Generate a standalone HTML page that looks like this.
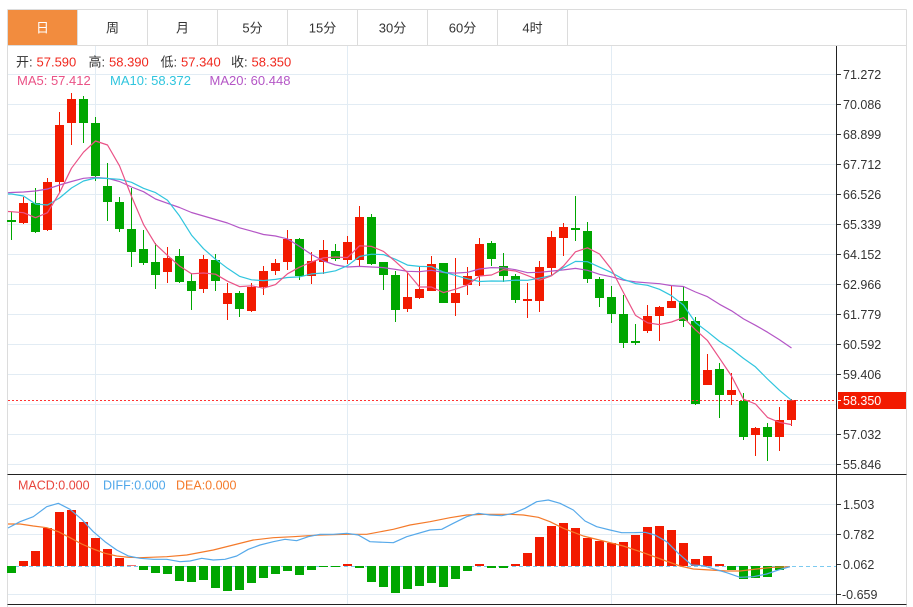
<!DOCTYPE html>
<html><head><meta charset="utf-8"><style>
html,body{margin:0;padding:0;background:#fff;}
svg{display:block;font-family:"Liberation Sans","Noto Sans CJK SC",sans-serif;}
</style></head><body>
<svg width="913" height="607" viewBox="0 0 913 607" xmlns="http://www.w3.org/2000/svg">
<rect x="0" y="0" width="913" height="607" fill="#fff"/>
<!-- tab bar -->
<rect x="8" y="10" width="69.5" height="35" fill="#f28c3e"/>
<g stroke="#dcdcdc" stroke-width="1" fill="none" shape-rendering="crispEdges">
<line x1="7.5" y1="9.5" x2="906.5" y2="9.5"/>
<line x1="7.5" y1="45.5" x2="906.5" y2="45.5"/>
<line x1="7.5" y1="9.5" x2="7.5" y2="607"/>
<line x1="906.5" y1="9.5" x2="906.5" y2="607"/>
<line x1="77.5" y1="10" x2="77.5" y2="45"/>
<line x1="147.5" y1="10" x2="147.5" y2="45"/>
<line x1="217.5" y1="10" x2="217.5" y2="45"/>
<line x1="287.5" y1="10" x2="287.5" y2="45"/>
<line x1="357.5" y1="10" x2="357.5" y2="45"/>
<line x1="427.5" y1="10" x2="427.5" y2="45"/>
<line x1="497.5" y1="10" x2="497.5" y2="45"/>
<line x1="567.5" y1="10" x2="567.5" y2="45"/>
</g>
<g font-size="13" text-anchor="middle" fill="#333">
<text x="42.5" y="32.5" fill="#fff">日</text>
<text x="112.5" y="32.5">周</text>
<text x="182.5" y="32.5">月</text>
<text x="252.5" y="32.5">5分</text>
<text x="322.5" y="32.5">15分</text>
<text x="392.5" y="32.5">30分</text>
<text x="462.5" y="32.5">60分</text>
<text x="532.5" y="32.5">4时</text>
</g>
<!-- grid -->
<g stroke="#e2ecf4" stroke-width="1" shape-rendering="crispEdges">
<line x1="8" y1="74.5" x2="837" y2="74.5"/>
<line x1="8" y1="104.5" x2="837" y2="104.5"/>
<line x1="8" y1="134.5" x2="837" y2="134.5"/>
<line x1="8" y1="164.5" x2="837" y2="164.5"/>
<line x1="8" y1="194.5" x2="837" y2="194.5"/>
<line x1="8" y1="224.5" x2="837" y2="224.5"/>
<line x1="8" y1="254.5" x2="837" y2="254.5"/>
<line x1="8" y1="284.5" x2="837" y2="284.5"/>
<line x1="8" y1="314.5" x2="837" y2="314.5"/>
<line x1="8" y1="344.5" x2="837" y2="344.5"/>
<line x1="8" y1="374.5" x2="837" y2="374.5"/>
<line x1="8" y1="404.5" x2="837" y2="404.5"/>
<line x1="8" y1="434.5" x2="837" y2="434.5"/>
<line x1="8" y1="464.5" x2="837" y2="464.5"/>
<line x1="8" y1="504.5" x2="837" y2="504.5"/>
<line x1="8" y1="534.5" x2="837" y2="534.5"/>
<line x1="8" y1="594.5" x2="837" y2="594.5"/>
<line x1="95.5" y1="46" x2="95.5" y2="604"/>
<line x1="347.5" y1="46" x2="347.5" y2="604"/>
<line x1="611.5" y1="46" x2="611.5" y2="604"/>
</g>
<line x1="8" y1="566.5" x2="837" y2="566.5" stroke="#7ccaf0" stroke-width="1" stroke-dasharray="4,3" shape-rendering="crispEdges"/>
<!-- info text -->
<g font-size="13">
<text x="16" y="66.5" fill="#333">开:</text><text x="36.5" y="66.5" fill="#f0281e">57.590</text>
<text x="88.5" y="66.5" fill="#333">高:</text><text x="109" y="66.5" fill="#f0281e">58.390</text>
<text x="160.5" y="66.5" fill="#333">低:</text><text x="181" y="66.5" fill="#f0281e">57.340</text>
<text x="231" y="66.5" fill="#333">收:</text><text x="251.5" y="66.5" fill="#f0281e">58.350</text>
<text x="17" y="85" fill="#ea5286">MA5: 57.412</text>
<text x="110" y="85" fill="#30c5de">MA10: 58.372</text>
<text x="209.5" y="85" fill="#b456c6">MA20: 60.448</text>
</g>
<g font-size="12.5">
<text x="18" y="489.5" fill="#e8453c">MACD:0.000</text>
<text x="103" y="489.5" fill="#4fa7ea">DIFF:0.000</text>
<text x="176" y="489.5" fill="#f47a2a">DEA:0.000</text>
</g>
<!-- candles red -->
<g fill="#f21a00" shape-rendering="crispEdges">
<rect x="23" y="197" width="1" height="27"/><rect x="19" y="203" width="9" height="20"/>
<rect x="47" y="178" width="1" height="53"/><rect x="43" y="182" width="9" height="48"/>
<rect x="59" y="112" width="1" height="81"/><rect x="55" y="125" width="9" height="57"/>
<rect x="71" y="93" width="1" height="52"/><rect x="67" y="99" width="9" height="24"/>
<rect x="167" y="247" width="1" height="36"/><rect x="163" y="258" width="9" height="14"/>
<rect x="203" y="255" width="1" height="38"/><rect x="199" y="259" width="9" height="30"/>
<rect x="227" y="283" width="1" height="37"/><rect x="223" y="293" width="9" height="11"/>
<rect x="251" y="283" width="1" height="29"/><rect x="247" y="287" width="9" height="24"/>
<rect x="263" y="266" width="1" height="29"/><rect x="259" y="271" width="9" height="16"/>
<rect x="275" y="259" width="1" height="16"/><rect x="271" y="263" width="9" height="8"/>
<rect x="287" y="230" width="1" height="40"/><rect x="283" y="239" width="9" height="23"/>
<rect x="311" y="252" width="1" height="32"/><rect x="307" y="261" width="9" height="15"/>
<rect x="323" y="240" width="1" height="34"/><rect x="319" y="250" width="9" height="12"/>
<rect x="347" y="236" width="1" height="28"/><rect x="343" y="242" width="9" height="18"/>
<rect x="359" y="206" width="1" height="60"/><rect x="355" y="217" width="9" height="43"/>
<rect x="407" y="273" width="1" height="39"/><rect x="403" y="297" width="9" height="12"/>
<rect x="419" y="267" width="1" height="32"/><rect x="415" y="289" width="9" height="9"/>
<rect x="431" y="256" width="1" height="35"/><rect x="427" y="264" width="9" height="27"/>
<rect x="455" y="258" width="1" height="58"/><rect x="451" y="293" width="9" height="10"/>
<rect x="467" y="267" width="1" height="28"/><rect x="463" y="276" width="9" height="9"/>
<rect x="479" y="238" width="1" height="48"/><rect x="475" y="244" width="9" height="32"/>
<rect x="527" y="283" width="1" height="35"/><rect x="523" y="299" width="9" height="2"/>
<rect x="539" y="261" width="1" height="51"/><rect x="535" y="267" width="9" height="34"/>
<rect x="551" y="231" width="1" height="45"/><rect x="547" y="237" width="9" height="31"/>
<rect x="563" y="223" width="1" height="33"/><rect x="559" y="227" width="9" height="11"/>
<rect x="647" y="305" width="1" height="28"/><rect x="643" y="316" width="9" height="15"/>
<rect x="659" y="306" width="1" height="35"/><rect x="655" y="307" width="9" height="9"/>
<rect x="671" y="286" width="1" height="22"/><rect x="667" y="301" width="9" height="7"/>
<rect x="707" y="354" width="1" height="31"/><rect x="703" y="370" width="9" height="15"/>
<rect x="731" y="373" width="1" height="32"/><rect x="727" y="390" width="9" height="5"/>
<rect x="755" y="427" width="1" height="29"/><rect x="751" y="428" width="9" height="7"/>
<rect x="779" y="407" width="1" height="44"/><rect x="775" y="420" width="9" height="17"/>
<rect x="791" y="399" width="1" height="27"/><rect x="787" y="400" width="9" height="20"/>
</g>
<!-- candles green -->
<g fill="#00a600" shape-rendering="crispEdges">
<rect x="11" y="212" width="1" height="28"/><rect x="7" y="220" width="9" height="2"/>
<rect x="35" y="188" width="1" height="45"/><rect x="31" y="203" width="9" height="29"/>
<rect x="83" y="96" width="1" height="47"/><rect x="79" y="99" width="9" height="24"/>
<rect x="95" y="117" width="1" height="64"/><rect x="91" y="123" width="9" height="53"/>
<rect x="107" y="163" width="1" height="58"/><rect x="103" y="186" width="9" height="16"/>
<rect x="119" y="197" width="1" height="35"/><rect x="115" y="202" width="9" height="27"/>
<rect x="131" y="188" width="1" height="79"/><rect x="127" y="229" width="9" height="23"/>
<rect x="143" y="230" width="1" height="35"/><rect x="139" y="249" width="9" height="14"/>
<rect x="155" y="243" width="1" height="46"/><rect x="151" y="262" width="9" height="13"/>
<rect x="179" y="249" width="1" height="34"/><rect x="175" y="256" width="9" height="26"/>
<rect x="191" y="273" width="1" height="37"/><rect x="187" y="281" width="9" height="10"/>
<rect x="215" y="254" width="1" height="37"/><rect x="211" y="260" width="9" height="21"/>
<rect x="239" y="291" width="1" height="26"/><rect x="235" y="293" width="9" height="16"/>
<rect x="299" y="238" width="1" height="42"/><rect x="295" y="239" width="9" height="37"/>
<rect x="335" y="244" width="1" height="17"/><rect x="331" y="251" width="9" height="8"/>
<rect x="371" y="214" width="1" height="51"/><rect x="367" y="217" width="9" height="47"/>
<rect x="383" y="262" width="1" height="28"/><rect x="379" y="262" width="9" height="13"/>
<rect x="395" y="271" width="1" height="51"/><rect x="391" y="275" width="9" height="35"/>
<rect x="443" y="263" width="1" height="40"/><rect x="439" y="263" width="9" height="40"/>
<rect x="491" y="241" width="1" height="25"/><rect x="487" y="243" width="9" height="16"/>
<rect x="503" y="253" width="1" height="29"/><rect x="499" y="266" width="9" height="10"/>
<rect x="515" y="274" width="1" height="29"/><rect x="511" y="276" width="9" height="24"/>
<rect x="575" y="196" width="1" height="45"/><rect x="571" y="228" width="9" height="2"/>
<rect x="587" y="222" width="1" height="61"/><rect x="583" y="231" width="9" height="48"/>
<rect x="599" y="277" width="1" height="30"/><rect x="595" y="279" width="9" height="19"/>
<rect x="611" y="286" width="1" height="37"/><rect x="607" y="297" width="9" height="17"/>
<rect x="623" y="295" width="1" height="53"/><rect x="619" y="314" width="9" height="29"/>
<rect x="635" y="324" width="1" height="21"/><rect x="631" y="341" width="9" height="2"/>
<rect x="683" y="286" width="1" height="41"/><rect x="679" y="301" width="9" height="20"/>
<rect x="695" y="317" width="1" height="88"/><rect x="691" y="321" width="9" height="83"/>
<rect x="719" y="363" width="1" height="55"/><rect x="715" y="369" width="9" height="26"/>
<rect x="743" y="393" width="1" height="47"/><rect x="739" y="401" width="9" height="36"/>
<rect x="767" y="423" width="1" height="38"/><rect x="763" y="427" width="9" height="10"/>
</g>
<!-- MA lines -->
<g fill="none" stroke-width="1.2" stroke-linejoin="round">
<polyline stroke="#b456c6" points="8,192.7 11.5,192.5 23.5,192 35.5,191 47.5,189 59.5,185 71.5,181.5 83.5,178.3 95.5,177.3 107.5,178.3 119.5,181.5 131.5,187 143.5,191.7 155.5,199 167.5,203.3 179.5,207.5 191.5,212.5 203.5,216 215.5,219.5 227.5,223 239.5,227.8 251.5,231.1 263.5,234.5 275.5,236 287.5,238.9 299.5,246.4 311.5,254.5 323.5,260.9 335.5,265 347.5,267 359.5,266.4 371.5,267 383.5,267.6 395.5,269.4 407.5,271.3 419.5,271.7 431.5,270.3 443.5,272.5 455.5,273.1 467.5,272.3 479.5,269 491.5,267.6 503.5,267.9 515.5,269.7 527.5,272.7 539.5,272.3 551.5,271.1 563.5,269.9 575.5,268.4 587.5,270.3 599.5,274.3 611.5,276.8 623.5,280.2 635.5,281.9 647.5,282.8 659.5,283.7 671.5,285.6 683.5,286.5 695.5,292 707.5,296.7 719.5,304.3 731.5,310.8 743.5,318.9 755.5,325.3 767.5,332.2 779.5,339.8 791.5,348"/>
<polyline stroke="#30c5de" points="8,194 11.5,194 23.5,196 35.5,204 47.5,205 59.5,198 71.5,188 83.5,181 95.5,178 107.5,178.5 119.5,179.3 131.5,182.3 143.5,188.3 155.5,192.6 167.5,200.2 179.5,215.9 191.5,235.1 203.5,248.7 215.5,259.2 227.5,268.3 239.5,276.3 251.5,279.8 263.5,280.6 275.5,279.4 287.5,277.5 299.5,276.9 311.5,273.9 323.5,273 335.5,270.8 347.5,265.7 359.5,256.5 371.5,254.2 383.5,254.6 395.5,259.3 407.5,265.1 419.5,266.4 431.5,266.7 443.5,272 455.5,275.4 467.5,278.8 479.5,281.5 491.5,281 503.5,281.1 515.5,280.1 527.5,280.3 539.5,278.1 551.5,275.4 563.5,267.8 575.5,261.4 587.5,261.7 599.5,267.1 611.5,272.6 623.5,279.3 635.5,283.6 647.5,285.3 659.5,289.3 671.5,295.7 683.5,305.1 695.5,322.6 707.5,331.7 719.5,341.4 731.5,349 743.5,358.4 755.5,366.9 767.5,379 779.5,390.3 791.5,400.3"/>
<polyline stroke="#ea5286" points="8,211.5 11.5,211.7 23.5,212.7 35.5,217.7 47.5,212.7 59.5,192.8 71.5,168.2 83.5,152.2 95.5,141 107.5,145 119.5,165.8 131.5,196.4 143.5,224.4 155.5,244.2 167.5,255.4 179.5,266 191.5,273.8 203.5,273 215.5,274.2 227.5,281.2 239.5,286.6 251.5,285.8 263.5,288.2 275.5,284.6 287.5,273.8 299.5,267.2 311.5,262 323.5,257.8 335.5,257 347.5,257.6 359.5,245.8 371.5,246.4 383.5,251.4 395.5,261.6 407.5,272.6 419.5,287 431.5,287 443.5,292.6 455.5,289.2 467.5,285 479.5,276 491.5,275 503.5,269.6 515.5,271 527.5,275.6 539.5,280.2 551.5,275.8 563.5,266 575.5,251.8 587.5,247.8 599.5,254 611.5,269.4 623.5,292.6 635.5,315.4 647.5,322.8 659.5,324.6 671.5,322 683.5,317.6 695.5,329.8 707.5,340.6 719.5,358.2 731.5,376 743.5,399.2 755.5,404 767.5,417.4 779.5,422.4 791.5,424.6"/>
</g>
<!-- current price line -->
<line x1="8" y1="400.5" x2="837" y2="400.5" stroke="#f33" stroke-width="1" stroke-dasharray="2,2"/>
<!-- MACD bars red -->
<g fill="#f21a00" shape-rendering="crispEdges">
<rect x="19" y="561" width="9" height="5"/>
<rect x="31" y="551" width="9" height="15"/>
<rect x="43" y="528" width="9" height="38"/>
<rect x="55" y="512" width="9" height="54"/>
<rect x="67" y="510" width="9" height="56"/>
<rect x="79" y="522" width="9" height="44"/>
<rect x="91" y="538" width="9" height="28"/>
<rect x="103" y="549" width="9" height="17"/>
<rect x="115" y="558" width="9" height="8"/>
<rect x="127" y="565" width="9" height="1" fill="#f07070"/>
<rect x="343" y="564" width="9" height="2"/>
<rect x="475" y="564" width="9" height="2"/>
<rect x="511" y="564" width="9" height="2"/>
<rect x="523" y="553" width="9" height="13"/>
<rect x="535" y="537" width="9" height="29"/>
<rect x="547" y="526" width="9" height="40"/>
<rect x="559" y="523" width="9" height="43"/>
<rect x="571" y="528" width="9" height="38"/>
<rect x="583" y="538" width="9" height="28"/>
<rect x="595" y="541" width="9" height="25"/>
<rect x="607" y="543" width="9" height="23"/>
<rect x="619" y="542" width="9" height="24"/>
<rect x="631" y="535" width="9" height="31"/>
<rect x="643" y="527" width="9" height="39"/>
<rect x="655" y="526" width="9" height="40"/>
<rect x="667" y="530" width="9" height="36"/>
<rect x="679" y="543" width="9" height="23"/>
<rect x="691" y="559" width="9" height="7"/>
<rect x="703" y="556" width="9" height="10"/>
<rect x="715" y="564" width="9" height="2"/>
</g>
<!-- MACD bars green -->
<g fill="#00a600" shape-rendering="crispEdges">
<rect x="7" y="566" width="9" height="7"/>
<rect x="139" y="566" width="9" height="4"/>
<rect x="151" y="566" width="9" height="7"/>
<rect x="163" y="566" width="9" height="8"/>
<rect x="175" y="566" width="9" height="15"/>
<rect x="187" y="566" width="9" height="16"/>
<rect x="199" y="566" width="9" height="14"/>
<rect x="211" y="566" width="9" height="22"/>
<rect x="223" y="566" width="9" height="25"/>
<rect x="235" y="566" width="9" height="24"/>
<rect x="247" y="566" width="9" height="17"/>
<rect x="259" y="566" width="9" height="12"/>
<rect x="271" y="566" width="9" height="8"/>
<rect x="283" y="566" width="9" height="5"/>
<rect x="295" y="566" width="9" height="9"/>
<rect x="307" y="566" width="9" height="4"/>
<rect x="319" y="566" width="9" height="1"/>
<rect x="331" y="566" width="9" height="1"/>
<rect x="355" y="566" width="9" height="2"/>
<rect x="367" y="566" width="9" height="16"/>
<rect x="379" y="566" width="9" height="21"/>
<rect x="391" y="566" width="9" height="27"/>
<rect x="403" y="566" width="9" height="23"/>
<rect x="415" y="566" width="9" height="20"/>
<rect x="427" y="566" width="9" height="17"/>
<rect x="439" y="566" width="9" height="21"/>
<rect x="451" y="566" width="9" height="13"/>
<rect x="463" y="566" width="9" height="5"/>
<rect x="487" y="566" width="9" height="2"/>
<rect x="499" y="566" width="9" height="2"/>
<rect x="727" y="566" width="9" height="4"/>
<rect x="739" y="566" width="9" height="13"/>
<rect x="751" y="566" width="9" height="12"/>
<rect x="763" y="566" width="9" height="11"/>
<rect x="775" y="566" width="9" height="4"/>
</g>
<!-- DIFF / DEA -->
<g fill="none" stroke-width="1.2" stroke-linejoin="round">
<polyline stroke="#f47a2a" points="8,524 20,524 33.3,526 46.7,527.7 58.3,531.7 70,537.7 81.7,544 93.3,549 105,553.3 116.7,556 128.3,557.3 140,557.7 166.7,556.7 186.7,555 213.3,550 233.3,545 253.3,540 273.3,537.7 293.3,536.7 320,535 346.7,534.3 366.7,534.3 393.3,529.3 410,525 430,521.7 450,517.7 466.7,515 486.7,514.3 510,514.3 523.3,515 538.3,517.3 550,521.7 563.3,528.3 583.3,536 603.3,541 623.3,546 643.3,552.7 663.3,560 680,566 693.3,569 710,570 726.7,571 740,571 756.7,569 773.3,567.3 790,566.7"/>
<polyline stroke="#56a9ea" points="8,528 20,521.7 33.3,516.7 46.7,506.7 58.3,503.3 70,509.3 81.7,519.3 93.3,531.7 105,541.7 116.7,550 128.3,556 140,558.3 153.3,559.3 166.7,559.3 180,561.7 190,561 201.7,558.3 213.3,560 225,559.3 236.7,556 248.3,549.3 260,545 273.3,541.7 285,539.3 296.7,540.7 308.3,536.7 320,534.3 333.3,534.3 346.7,533.3 358.3,535 370,541.7 393.3,542.7 406.7,536.7 430,530 441.7,529.3 453.3,523.3 466.7,516.7 478.3,513.3 490,515 501.7,515.7 513.3,513.3 525,508.3 536.7,501.7 548.3,500 560,503.3 573.3,510 585,521 596.7,526.7 610,530 621.7,532.7 633.3,532.7 645,532.3 655,535 666.7,541.7 678.3,553.3 691.7,565 703.3,565.7 715,569.3 726.7,572.7 740,577.3 753.3,576.7 766.7,574 778.3,570 790,566.7"/>
</g>
<!-- panel borders -->
<g stroke="#222" stroke-width="1" shape-rendering="crispEdges">
<line x1="7.5" y1="474.5" x2="906.5" y2="474.5"/>
<line x1="7.5" y1="604.5" x2="906.5" y2="604.5"/>
<line x1="836.5" y1="46" x2="836.5" y2="604"/>
</g>
<!-- ticks -->
<g stroke="#333" stroke-width="1" shape-rendering="crispEdges">
<line x1="837" y1="74.5" x2="841" y2="74.5"/>
<line x1="837" y1="104.5" x2="841" y2="104.5"/>
<line x1="837" y1="134.5" x2="841" y2="134.5"/>
<line x1="837" y1="164.5" x2="841" y2="164.5"/>
<line x1="837" y1="194.5" x2="841" y2="194.5"/>
<line x1="837" y1="224.5" x2="841" y2="224.5"/>
<line x1="837" y1="254.5" x2="841" y2="254.5"/>
<line x1="837" y1="284.5" x2="841" y2="284.5"/>
<line x1="837" y1="314.5" x2="841" y2="314.5"/>
<line x1="837" y1="344.5" x2="841" y2="344.5"/>
<line x1="837" y1="374.5" x2="841" y2="374.5"/>
<line x1="837" y1="434.5" x2="841" y2="434.5"/>
<line x1="837" y1="464.5" x2="841" y2="464.5"/>
<line x1="837" y1="504.5" x2="841" y2="504.5"/>
<line x1="837" y1="534.5" x2="841" y2="534.5"/>
<line x1="837" y1="564.5" x2="841" y2="564.5"/>
<line x1="837" y1="594.5" x2="841" y2="594.5"/>
</g>
<g font-size="12.5" fill="#333">
<text x="843" y="79">71.272</text>
<text x="843" y="109">70.086</text>
<text x="843" y="139">68.899</text>
<text x="843" y="169">67.712</text>
<text x="843" y="199">66.526</text>
<text x="843" y="229">65.339</text>
<text x="843" y="259">64.152</text>
<text x="843" y="289">62.966</text>
<text x="843" y="319">61.779</text>
<text x="843" y="349">60.592</text>
<text x="843" y="379">59.406</text>
<text x="843" y="439">57.032</text>
<text x="843" y="469">55.846</text>
<text x="843" y="509">1.503</text>
<text x="843" y="539">0.782</text>
<text x="843" y="569">0.062</text>
<text x="842" y="599">-0.659</text>
</g>
<rect x="838" y="392" width="68" height="17" fill="#f21a00"/>
<line x1="837" y1="400.5" x2="841" y2="400.5" stroke="#fff" stroke-width="1"/>
<text x="843" y="405" font-size="12.5" fill="#fff">58.350</text>
</svg>
</body></html>
